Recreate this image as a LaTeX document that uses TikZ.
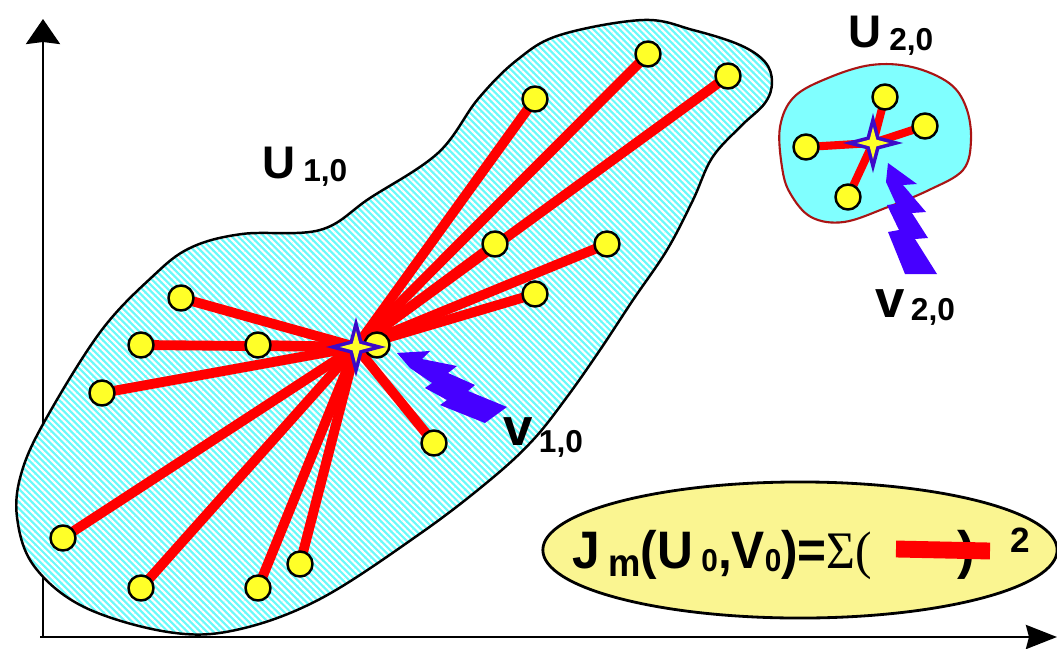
\documentclass[tikz,border=0pt]{standalone}
\usepackage{fontspec}
\setmainfont{Liberation Sans}
\newfontfamily\sigmafont{Liberation Serif}
\usetikzlibrary{shapes.geometric,arrows.meta,patterns.meta}
\definecolor{cellcyan}{RGB}{128,255,255}
\definecolor{hatchcyan}{RGB}{105,250,250}
\definecolor{dotyellow}{RGB}{255,255,40}
\definecolor{starblue}{RGB}{60,10,200}
\definecolor{boltblue}{RGB}{70,0,255}
\definecolor{rimred}{RGB}{170,20,20}
\definecolor{boxyellow}{RGB}{250,245,145}
\newcommand\labfont{\bfseries\fontsize{13}{14}\selectfont}
\newcommand\idxfont{\bfseries\fontsize{9}{10}\selectfont}
\pgfdeclarelayer{bg}
\pgfsetlayers{bg,main}
\tikzset{
  site/.style={circle,draw=black,line width=0.7pt,fill=dotyellow,minimum size=0.25cm,inner sep=0pt},
  ray/.style={red,line width=2.8pt},
  centre/.style={star,star points=4,star point ratio=3.4,fill=starblue,minimum size=0.6cm,inner sep=0pt},
  lbl/.style={inner sep=0pt,anchor=base west},
}
\begin{document}
\begin{tikzpicture}[x=0.01cm,y=-0.01cm,line join=round]
  \useasboundingbox (0,0) rectangle (1057,648);
  \begin{pgfonlayer}{bg}
    % axes, arrows at the top and at the right
    \draw[line width=0.8pt,-{Stealth[length=0.25cm,width=0.34cm,inset=0.02cm]}] (43,637) -- (43,19);
    \draw[line width=0.8pt,-{Stealth[length=0.31cm,width=0.24cm,inset=0.03cm]}] (40,637) -- (1057,637);
    % cluster U1,0: hatched blob
    \draw[line width=0.7pt,preaction={fill=hatchcyan},pattern={Lines[angle=-45,distance=1.3pt,line width=0.6pt]},pattern color=white]
      plot[smooth cycle,tension=0.6] coordinates {(560,35) (643,20) (693,30) (740,45) (765,62) (772,82) (765,103)
        (740,127) (712,158) (693,200) (667,250) (633,300) (600,350) (567,397) (533,440) (490,480) (421,533)
        (320,599) (236,630) (168,632) (84,607) (34,566) (17,517) (22,471) (47,417) (101,331) (152,277)
        (190,248) (242,234) (320,230) (370,198) (438,153) (478,99) (517,60)};
    % cluster U2,0: plain blob
    \draw[rimred,line width=0.6pt,fill=cellcyan]
      plot[smooth cycle,tension=0.6] coordinates {(780,127) (794,97) (828,78) (871,65) (912,67) (949,83) (966,107)
        (971,140) (963,170) (929,190) (888,207) (844,222) (811,217) (790,193) (782,167)};
  \end{pgfonlayer}
  % sites of U1,0 and its centre
  \foreach \x/\y [count=\n] in {181/298,141/345,258/345,102/393,377/345,434/443,63/538,141/588,
    258/588,300/564,535/99,648/54,728/76,495/244,607/244,535/294}
    \node[site] (d\n) at (\x,\y) {};
  \node[centre] (v1) at (356,347) {};
  \node[centre,fill=dotyellow,minimum size=0.32cm] (v1in) at (v1) {};
  % sites of U2,0 and its centre
  \foreach \x/\y [count=\n] in {885/97,925/126,806/147,848/197}
    \node[site] (e\n) at (\x,\y) {};
  \node[centre] (v2) at (873,143) {};
  \node[centre,fill=dotyellow,minimum size=0.32cm] (v2in) at (v2) {};
  \begin{pgfonlayer}{bg}
    \foreach \n in {1,...,16}
      \draw[ray] (v1.center) -- (d\n.center);
    \foreach \n in {1,...,4}
      \draw[ray,line width=2.3pt] (v2.center) -- (e\n.center);
  \end{pgfonlayer}
  % lightning arrows pointing at the centres
  \fill[boltblue] (397,353) -- (430,351) -- (422,359) -- (457,366) -- (448,373) -- (475,385) -- (468,391)
    -- (507,407) -- (485,423) -- (440,405) -- (447,400) -- (425,388) -- (432,383) -- (410,368) -- cycle;
  \fill[boltblue] (888,163) -- (917,184) -- (903,185) -- (926,212) -- (912,213) -- (928,238) -- (915,239)
    -- (937,274) -- (905,274) -- (888,232) -- (899,230) -- (887,205) -- (896,204) -- (886,182) -- cycle;
  % labels
  \node[lbl] (u1) at (262,178) {\labfont U\,\raisebox{-1pt}{\idxfont 1,0}};
  \node[lbl] (u2) at (848,47) {\labfont U\,\raisebox{-1pt}{\idxfont 2,0}};
  \node[lbl] (w1) at (503,445) {{\bfseries\fontsize{15}{16}\selectfont v}\,\raisebox{-2pt}{\idxfont 1,0}};
  \node[lbl] (w2) at (875,317) {{\bfseries\fontsize{15}{16}\selectfont v}\,\raisebox{-1pt}{\idxfont 2,0}};
  % objective in the yellow ellipse
  \node[ellipse,draw,line width=0.8pt,fill=boxyellow,minimum width=5.14cm,minimum height=1.36cm] (jbox) at (800,550) {};
  \node[lbl] (jtext) at (572,568) {\scalebox{0.94}[1]{\bfseries\fontsize{15}{16}\selectfont J\,\raisebox{-2.3pt}{\fontsize{11}{12}\selectfont m}(U\,\raisebox{-1.1pt}{\fontsize{9}{10}\selectfont 0},V\raisebox{-1.1pt}{\fontsize{9}{10}\selectfont 0})=\sigmafont\mdseries Σ(}};
  \node[lbl] (jclose) at (957,568) {\bfseries\fontsize{15}{16}\selectfont )};
  \draw[red,line width=4.8pt] (896,549) -- (990,551);
  \node[lbl] (jsq) at (1010,552) {\bfseries\fontsize{10}{11}\selectfont 2};
\end{tikzpicture}
\end{document}
